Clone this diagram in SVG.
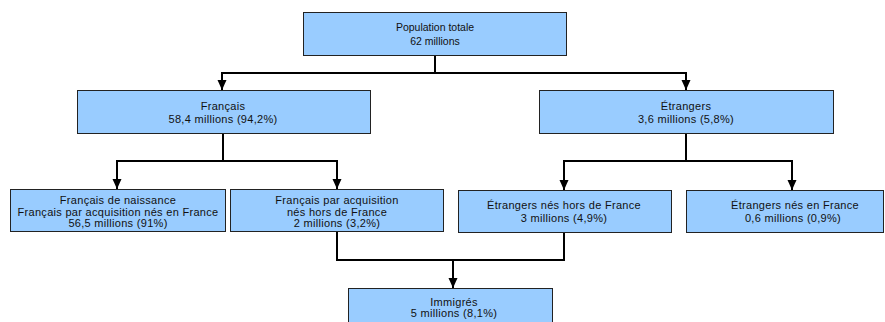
<svg xmlns="http://www.w3.org/2000/svg" width="885" height="322" viewBox="0 0 885 322">
<style>
.box{fill:#99ccff;stroke:#222;stroke-width:1}
.t{font-family:"Liberation Sans",Arial,sans-serif;font-size:11px;letter-spacing:0.3px;fill:#111;text-anchor:middle}
.top{font-size:10.5px;letter-spacing:0}
.c{fill:none;stroke:#000;stroke-width:2}
</style>
<defs>
<marker id="ah" markerUnits="userSpaceOnUse" markerWidth="10" markerHeight="10" viewBox="0 0 10 10" refX="10" refY="5" orient="auto">
<path d="M0,0.5 L10,5 L0,9.5 Z" fill="#000"/>
</marker>
</defs>
<rect width="885" height="322" fill="#fff"/>
<g id="connectors">
<path class="c" d="M435,55 V73"/>
<path class="c" d="M222,73 H686"/>
<path class="c" d="M222,72 V90" marker-end="url(#ah)"/>
<path class="c" d="M686,72 V90" marker-end="url(#ah)"/>
<path class="c" d="M223,133 V161"/>
<path class="c" d="M117,161 H337"/>
<path class="c" d="M117,160 V189" marker-end="url(#ah)"/>
<path class="c" d="M337,160 V189" marker-end="url(#ah)"/>
<path class="c" d="M686,133 V161"/>
<path class="c" d="M564,161 H792"/>
<path class="c" d="M564,160 V190" marker-end="url(#ah)"/>
<path class="c" d="M792,160 V190" marker-end="url(#ah)"/>
<path class="c" d="M337,231 V260 H564 V232"/>
<path class="c" d="M453,260 V288" marker-end="url(#ah)"/>
</g>
<g id="population">
<rect class="box" x="303.5" y="12.5" width="263" height="43"/>
<text class="t top" x="435" y="31">Population totale</text>
<text class="t top" x="435" y="45">62 millions</text>
</g>
<g id="francais">
<rect class="box" x="77.5" y="90.5" width="293" height="43"/>
<text class="t" x="223" y="110">Français</text>
<text class="t" x="223" y="123">58,4 millions (94,2%)</text>
</g>
<g id="etrangers">
<rect class="box" x="539.5" y="90.5" width="294" height="43"/>
<text class="t" x="686" y="110">Étrangers</text>
<text class="t" x="686" y="123">3,6 millions (5,8%)</text>
</g>
<g id="fr-naissance">
<rect class="box" x="10.5" y="189.5" width="215" height="42"/>
<text class="t" x="118" y="204">Français de naissance</text>
<text class="t" x="118" y="215.5" letter-spacing="0.45">Français par acquisition nés en France</text>
<text class="t" x="118" y="227">56,5 millions (91%)</text>
</g>
<g id="fr-acquisition">
<rect class="box" x="230.5" y="189.5" width="213" height="42"/>
<text class="t" x="337" y="204">Français par acquisition</text>
<text class="t" x="337" y="215.5">nés hors de France</text>
<text class="t" x="337" y="227">2 millions (3,2%)</text>
</g>
<g id="etr-hors">
<rect class="box" x="458.5" y="190.5" width="213" height="42"/>
<text class="t" x="564" y="209">Étrangers nés hors de France</text>
<text class="t" x="564" y="222">3 millions (4,9%)</text>
</g>
<g id="etr-en">
<rect class="box" x="686.5" y="190.5" width="197" height="42"/>
<text class="t" x="795" y="209">Étrangers nés en France</text>
<text class="t" x="793" y="222">0,6 millions (0,9%)</text>
</g>
<g id="immigres">
<rect class="box" x="348.5" y="288.5" width="204" height="40"/>
<text class="t" x="454" y="305.5">Immigrés</text>
<text class="t" x="454" y="317">5 millions (8,1%)</text>
</g>
</svg>
